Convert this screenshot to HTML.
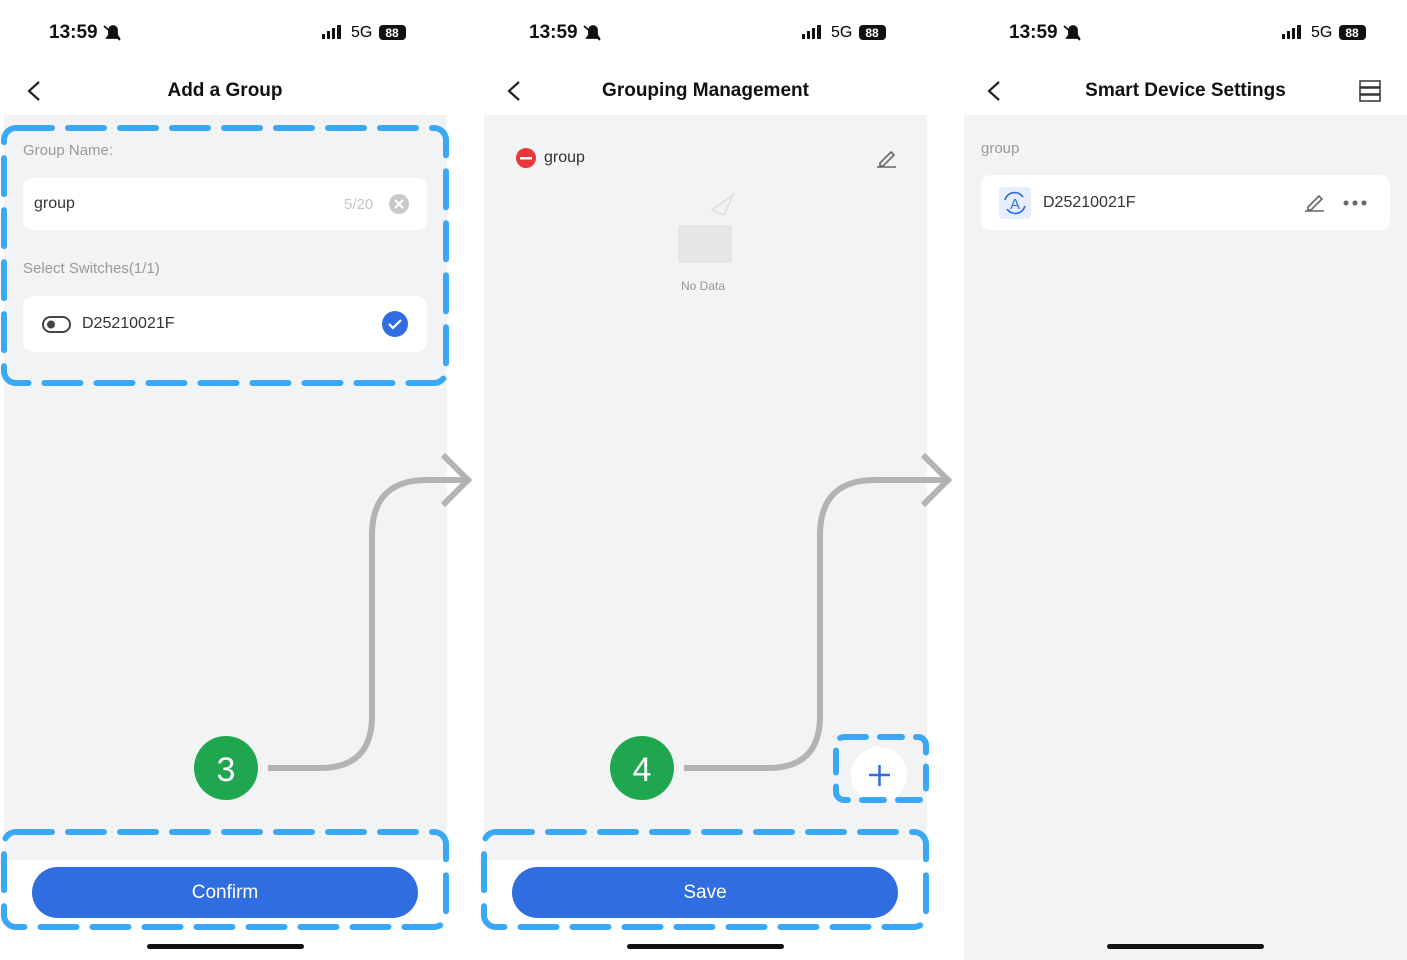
<!DOCTYPE html><html><head><style>
body{margin:0;width:1407px;height:960px;background:#fff;position:relative;overflow:hidden;font-family:"Liberation Sans",sans-serif}
.p{position:absolute;top:0;width:443px;height:960px;background:#fff}
.g{position:absolute;left:0;right:0;top:115px;height:745px;background:#f2f3f5}
.abs{position:absolute}
.time{top:22px;font-size:19px;font-weight:bold;color:#111}
.title{top:80px;left:0;right:0;text-align:center;font-size:19px;font-weight:bold;color:#111}
.card{position:absolute;background:#fff;border-radius:10px}
.btn{position:absolute;left:32px;width:386px;height:51px;top:867px;background:#2f6de0;border-radius:26px;color:#fff;font-size:19px;text-align:center;line-height:51px}
.bar{position:absolute;left:147px;width:157px;height:5px;top:944px;background:#111;border-radius:3px}
</style></head><body>
<div class="p" style="left:4px"><div class="g"></div></div>
<div class="p" style="left:484px"><div class="g"></div></div>
<div class="p" style="left:964px"><div class="g" style="height:845px"></div></div>

<div class="abs time" style="left:49px">13:59</div>
<div class="abs time" style="left:529px">13:59</div>
<div class="abs time" style="left:1009px">13:59</div>
<div class="abs" style="left:351px;top:24px;font-size:16px">5G</div>
<div class="abs" style="left:831px;top:24px;font-size:16px">5G</div>
<div class="abs" style="left:1311px;top:24px;font-size:16px">5G</div>
<div class="abs title" style="width:450px">Add a Group</div>
<div class="abs title" style="left:484px;width:443px">Grouping Management</div>
<div class="abs title" style="left:964px;width:443px">Smart Device Settings</div>

<div class="abs" style="left:23px;top:142px;font-size:15px;color:#999">Group Name:</div>
<div class="card" style="left:23px;top:178px;width:404px;height:52px"></div>
<div class="abs" style="left:34px;top:195px;font-size:16px;color:#333">group</div>
<div class="abs" style="left:344px;top:196px;font-size:15px;color:#c4c4c4">5/20</div>
<div class="abs" style="left:23px;top:260px;font-size:15px;color:#999">Select Switches(1/1)</div>
<div class="card" style="left:23px;top:296px;width:404px;height:56px"></div>
<div class="abs" style="left:82px;top:315px;font-size:16px;color:#333">D25210021F</div>
<div class="btn">Confirm</div><div class="bar"></div>

<div class="abs" style="left:544px;top:149px;font-size:16px;color:#333">group</div>
<div class="abs" style="left:681px;top:279px;font-size:12px;color:#999">No Data</div>
<div class="btn" style="left:512px">Save</div><div class="bar" style="left:627px"></div>

<div class="abs" style="left:981px;top:140px;font-size:15px;color:#999">group</div>
<div class="card" style="left:981px;top:175px;width:409px;height:55px"></div>
<div class="abs" style="left:999px;top:187px;width:32px;height:32px;background:#e6eefb;border-radius:4px"></div>
<div class="abs" style="left:1043px;top:194px;font-size:16px;color:#333">D25210021F</div>
<div class="bar" style="left:1107px"></div>

<svg class="abs" style="left:0;top:0" width="1407" height="960">
<g fill="#111">
<rect x="322" y="34" width="3" height="5"/><rect x="327" y="31" width="3" height="8"/><rect x="332" y="28" width="3" height="11"/><rect x="337" y="25" width="4" height="14"/>
<rect x="802" y="34" width="3" height="5"/><rect x="807" y="31" width="3" height="8"/><rect x="812" y="28" width="3" height="11"/><rect x="817" y="25" width="4" height="14"/>
<rect x="1282" y="34" width="3" height="5"/><rect x="1287" y="31" width="3" height="8"/><rect x="1292" y="28" width="3" height="11"/><rect x="1297" y="25" width="4" height="14"/>
<rect x="379" y="25" width="27" height="15" rx="4"/><rect x="859" y="25" width="27" height="15" rx="4"/><rect x="1339" y="25" width="27" height="15" rx="4"/>
</g>
<g fill="#fff" font-size="12" font-weight="bold" font-family="Liberation Sans" text-anchor="middle">
<text x="392" y="37">88</text><text x="872" y="37">88</text><text x="1352" y="37">88</text>
</g>
<g fill="#111" stroke="#111" stroke-width="1.8">
<path d="M107 38h12l-2-3v-5a4 4 0 0 0-8 0v5z"/><path d="M104 26l16 14"/>
<path d="M587 38h12l-2-3v-5a4 4 0 0 0-8 0v5z"/><path d="M584 26l16 14"/>
<path d="M1067 38h12l-2-3v-5a4 4 0 0 0-8 0v5z"/><path d="M1064 26l16 14"/>
</g>
<g fill="none" stroke="#222" stroke-width="2.2">
<path d="M39 82l-10 9 10 9"/><path d="M519 82l-10 9 10 9"/><path d="M999 82l-10 9 10 9"/>
</g>
<g fill="none" stroke="#333" stroke-width="1.5"><rect x="1360" y="81" width="20" height="6"/><rect x="1360" y="88" width="20" height="6"/><rect x="1360" y="95" width="20" height="6"/></g>
<g fill="none" stroke="#b3b3b3" stroke-width="6">
<path d="M268 768H320q52 0 52-52V535q0-55 55-55H470"/><path d="M443 455l25 25-25 25"/>
<path d="M684 768H768q52 0 52-52V535q0-55 55-55H950"/><path d="M923 455l25 25-25 25"/>
</g>
<circle cx="226" cy="768" r="32" fill="#1fa64e"/><circle cx="642" cy="768" r="32" fill="#1fa64e"/>
<text x="226" y="781" fill="#fff" font-size="34" text-anchor="middle" font-family="Liberation Sans">3</text>
<text x="642" y="781" fill="#fff" font-size="34" text-anchor="middle" font-family="Liberation Sans">4</text>
<circle cx="879" cy="775" r="28" fill="#fff"/>
<path d="M869 775h21M879.5 765v21" stroke="#2f6de0" stroke-width="2.5"/>
<circle cx="399" cy="204" r="10" fill="#c8c8c8"/><path d="M395 200l8 8M403 200l-8 8" stroke="#fff" stroke-width="2.2"/>
<rect x="43" y="317" width="27" height="15" rx="7.5" fill="none" stroke="#444" stroke-width="2"/><circle cx="51" cy="324.5" r="4" fill="#444"/>
<circle cx="395" cy="324" r="13" fill="#2f6de0"/><path d="M389 324l4 4 8-8" stroke="#fff" stroke-width="2.2" fill="none"/>
<circle cx="526" cy="158" r="10" fill="#e8383d"/><rect x="520" y="157" width="12" height="2.5" fill="#fff"/>
<g fill="none" stroke="#666" stroke-width="1.6"><path d="M880 163l11-11 3 3-11 11h-3z"/><path d="M877 167h19"/>
<path d="M1308 207l11-11 3 3-11 11h-3z"/><path d="M1305 211h19"/></g>
<g fill="#666"><circle cx="1346" cy="203" r="2.5"/><circle cx="1355" cy="203" r="2.5"/><circle cx="1364" cy="203" r="2.5"/></g>
<rect x="678" y="225" width="54" height="38" rx="3" fill="#e6e6e6"/>
<path d="M712 210l21-15-9 20z" fill="none" stroke="#ddd" stroke-width="1.5"/>
<text x="1015" y="209" fill="#2f6de0" font-size="15" text-anchor="middle" font-family="Liberation Sans">A</text>
<path d="M1005 200a10 10 0 0 1 18-3M1025 206a10 10 0 0 1-18 3" fill="none" stroke="#2f6de0" stroke-width="1.6"/>
<g fill="none" stroke="#3aa8f5" stroke-width="6" stroke-dasharray="36 16" stroke-linecap="round">
<rect x="4" y="128" width="442" height="255" rx="12"/>
<rect x="4" y="832" width="442" height="95" rx="12"/>
<rect x="484" y="832" width="442" height="95" rx="12"/>
<rect x="836" y="737" width="90" height="63" rx="8" stroke-dasharray="22 14"/>
</g>
</svg>
</body></html>
